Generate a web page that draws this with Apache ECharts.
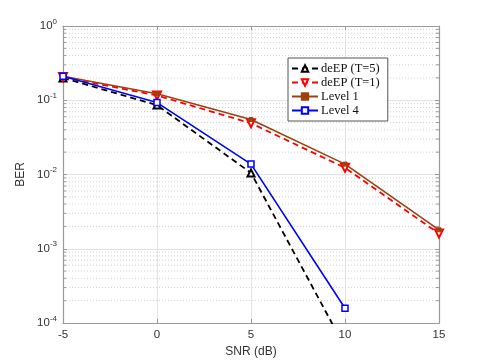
<!DOCTYPE html>
<html><head><meta charset="utf-8">
<script src="https://cdn.jsdelivr.net/npm/echarts@6/dist/echarts.min.js"></script>
<style>html,body{margin:0;padding:0;background:#fff}#c{width:485px;height:363px}</style>
</head><body><div id="c"></div>
<script>
const snr = [-5, 0, 5, 10, 15];
const deEP5 = [0.200, 0.086, 0.0105, 0.000047, null];
const deEP1 = [0.205, 0.116, 0.049, 0.0123, 0.0016];
const level1 = [0.210, 0.122, 0.055, 0.0138, 0.0018];
const level4 = [0.210, 0.093, 0.0138, 0.000158, null];
const xTicks = [-5, 0, 5, 10, 15];
const yDecades = [-4, -3, -2, -1, 0];

function pairs(ys){ const o=[]; ys.forEach((v,i)=>{ if(v!==null) o.push([snr[i], v]); }); return o; }
const minorVals = [];
for (let d=-4; d<0; d++) for (let k=2; k<=9; k++) minorVals.push(k*Math.pow(10,d));

const font = 'Liberation Sans, Arial, sans-serif';
const txt = '#333';
const axisCol = '#9a9a9a';
const xMin = xTicks[0], xMax = xTicks[xTicks.length-1];

const chart = echarts.init(document.getElementById('c'));
chart.setOption({
  animation:false,
  backgroundColor:'#fff',
  grid:{left:63, right:46, top:26, bottom:40},
  legend:{
    orient:'vertical', left:288, top:58,
    backgroundColor:'#fff', borderColor:'#555', borderWidth:1,
    padding:[4,8,4,3], itemGap:1, itemWidth:26, itemHeight:8,
    textStyle:{fontFamily:'Liberation Serif, Times New Roman, serif', fontSize:12.5, lineHeight:13, color:'#111', padding:[0,0,0,-2]},
    data:['deEP (T=5)','deEP (T=1)','Level 1','Level 4']
  },
  xAxis:[{
    type:'value', min:xMin, max:xMax, interval:5,
    name:'SNR (dB)', nameLocation:'middle', nameGap:22,
    nameTextStyle:{fontFamily:font, fontSize:12, color:txt},
    axisLine:{onZero:false, lineStyle:{color:axisCol, width:1.2}},
    axisTick:{inside:true, length:4, lineStyle:{color:axisCol}},
    axisLabel:{fontFamily:font, fontSize:11.5, color:txt, margin:6},
    splitLine:{show:true, lineStyle:{color:'#e4e4e4', width:1}}
  },{
    type:'value', min:xMin, max:xMax, interval:5, position:'top',
    axisLine:{onZero:false, lineStyle:{color:axisCol, width:1.2}},
    axisTick:{inside:true, length:4, lineStyle:{color:axisCol}},
    axisLabel:{show:false}, splitLine:{show:false}
  }],
  yAxis:[{
    type:'log', logBase:10, min:1e-4, max:1,
    name:'BER', nameLocation:'middle', nameGap:32, nameRotate:90,
    nameTextStyle:{fontFamily:font, fontSize:12, color:txt},
    axisLine:{onZero:false, lineStyle:{color:axisCol, width:1.2}},
    axisTick:{inside:true, length:4, lineStyle:{color:axisCol}},
    axisLabel:{
      fontFamily:font, color:txt, margin:6,
      formatter:function(v){ const e=Math.round(Math.log10(v)); return '{b|10}{s|'+e+'}'; },
      rich:{ b:{fontFamily:font, fontSize:11.5, color:txt}, s:{fontFamily:font, fontSize:8, color:txt, padding:[0,0,9,0]} }
    },
    splitLine:{show:true, lineStyle:{color:'#e4e4e4', width:1}}
  },{
    type:'log', logBase:10, min:1e-4, max:1, position:'right',
    axisLine:{onZero:false, lineStyle:{color:axisCol, width:1.2}},
    axisTick:{inside:true, length:4, lineStyle:{color:axisCol}},
    axisLabel:{show:false}, splitLine:{show:false}
  }],
  series:[
    {
      name:'minorGrid', type:'custom', silent:true, z:0,
      data: minorVals.map(v=>[xMin, v]),
      renderItem:function(params, api){
        const v = api.value(1);
        const p1 = api.coord([xMin, v]), p2 = api.coord([xMax, v]);
        const p3 = api.coord([xMax, v]);
        return {type:'group', children:[
          {type:'line', shape:{x1:p1[0], y1:p1[1], x2:p2[0], y2:p2[1]},
           style:{stroke:'#d2d2d2', lineWidth:1, lineDash:[1,2]}},
          {type:'line', shape:{x1:p1[0], y1:p1[1], x2:p1[0]+3, y2:p1[1]},
           style:{stroke:axisCol, lineWidth:1}},
          {type:'line', shape:{x1:p3[0]-3, y1:p3[1], x2:p3[0], y2:p3[1]},
           style:{stroke:axisCol, lineWidth:1}}
        ]};
      }
    },
    {
      name:'deEP (T=5)', type:'line', data:pairs(deEP5), clip:true,
      lineStyle:{color:'#000', width:1.8, type:[6,4]},
      symbol:'triangle', symbolSize:7,
      itemStyle:{color:'#fff', borderColor:'#000', borderWidth:2}, z:3
    },
    {
      name:'deEP (T=1)', type:'line', data:pairs(deEP1), clip:true,
      lineStyle:{color:'#ff0000', width:1.8, type:[6,4]},
      symbol:'triangle', symbolRotate:180, symbolSize:8,
      itemStyle:{color:'#fff', borderColor:'#ff0000', borderWidth:2}, z:3
    },
    {
      name:'Level 1', type:'line', data:pairs(level1), clip:true,
      lineStyle:{color:'#a0400f', width:1.6},
      symbol:'rect', symbolSize:4,
      itemStyle:{color:'#a0400f', borderColor:'#a0400f', borderWidth:1}, z:4
    },
    {
      name:'Level 4', type:'line', data:pairs(level4), clip:true,
      lineStyle:{color:'#0000ff', width:1.6},
      symbol:'rect', symbolSize:6,
      itemStyle:{color:'#fff', borderColor:'#0000ff', borderWidth:1.5}, z:4
    }
  ]
});
</script></body></html>
